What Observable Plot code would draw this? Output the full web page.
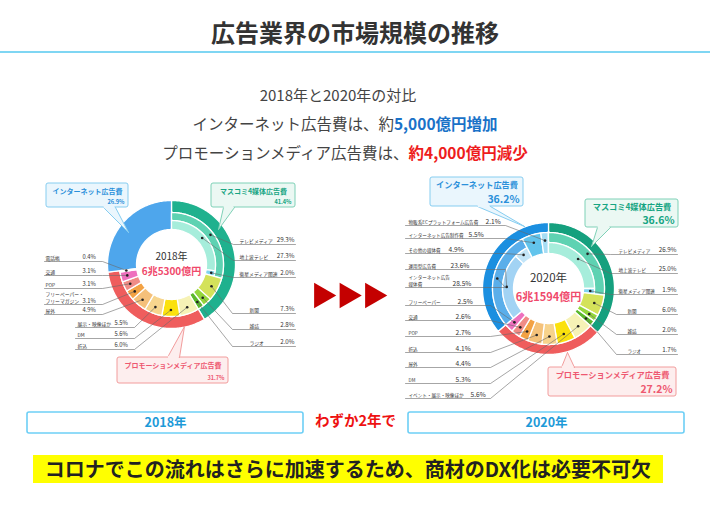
<!DOCTYPE html>
<html><head><meta charset="utf-8">
<script src="https://cdn.jsdelivr.net/npm/d3@7"></script>
<script src="https://cdn.jsdelivr.net/npm/@observablehq/plot@0.6"></script>
<style>
html,body{margin:0;padding:0;background:#fff;}
#page{position:relative;width:710px;height:507px;background:#fff;font-family:"Noto Sans CJK JP","Noto Sans",sans-serif;color:#444;overflow:hidden;}
.abs{position:absolute;white-space:nowrap;}
#chart{position:absolute;left:0;top:165px;}
</style></head>
<body>
<div id="page">
  <div class="abs" style="left:0;top:15px;width:710px;text-align:center;font-size:24px;line-height:34px;font-weight:bold;color:#333;">広告業界の市場規模の推移</div>
  <div class="abs" style="left:0;top:51px;width:710px;height:2px;background:#7fd6f3;"></div>
  <div class="abs" style="left:0;top:85px;width:676px;text-align:center;font-size:15px;line-height:20px;">2018年と2020年の対比</div>
  <div class="abs" style="left:0;top:113px;width:690px;text-align:center;font-size:15.5px;line-height:20px;">インターネット広告費は、約<b style="color:#1a72c8">5,000億円増加</b></div>
  <div class="abs" style="left:0;top:142px;width:690px;text-align:center;font-size:15.5px;line-height:20px;">プロモーションメディア広告費は、<b style="color:#ee1c1c">約4,000億円減少</b></div>
  <div id="chart"></div>
  <div class="abs" style="left:33px;top:455px;width:630px;height:28px;background:#ffff00;text-align:center;font-size:20px;line-height:28px;font-weight:bold;color:#222;">コロナでこの流れはさらに加速するため、商材のDX化は必要不可欠</div>
</div>
<script>
// ---------------- data ----------------
const years = ["2018", "2020"];
const yearLabels = ["2018年", "2020年"];
const totals = ["6兆5300億円", "6兆1594億円"];
const categories = ["マスコミ4媒体広告費", "プロモーションメディア広告費", "インターネット広告費"];
const catShare2018 = [41.4, 31.7, 26.9];
const catShare2020 = [36.6, 27.2, 36.2];
const massMedia = ["テレビメディア", "新聞", "雑誌", "ラジオ"];
const mass2018 = [29.3, 7.3, 2.8, 2.0];
const mass2020 = [26.9, 6.0, 2.0, 1.7];
const tvMedia = ["地上波テレビ", "衛星メディア関連"];
const tv2018 = [27.3, 2.0];
const tv2020 = [25.0, 1.9];
const promoNames2018 = ["折込", "DM", "展示・映像ほか", "屋外", "フリーペーパー・フリーマガジン", "POP", "交通", "電話帳"];
const promo2018 = [6.0, 5.6, 5.5, 4.9, 3.1, 3.1, 3.1, 0.4];
const promoNames2020 = ["イベント・展示・映像ほか", "DM", "屋外", "折込", "POP", "交通", "フリーペーパー"];
const promo2020 = [5.6, 5.3, 4.4, 4.1, 2.7, 2.6, 2.5];
const netNames2020 = ["インターネット広告媒体費", "インターネット広告制作費", "物販系ECプラットフォーム広告費"];
const net2020 = [28.5, 5.5, 2.1];
const netMediaNames2020 = ["運用型広告費", "その他の媒体費"];
const netMedia2020 = [23.6, 4.9];
const bridgeText = "わずか2年で";

// ---------------- styles / layout ----------------
const geom = {
  "2018": {cx: 171, cy: 264, r0: 35, r1: 44, r2: 52, R: 64},
  "2020": {cx: 548, cy: 288, r0: 35, r1: 46, r2: 56, R: 66}
};
const catColor = {
  "2018": ["#1fb18e", "#ef5d5d", "#4ea6ec"],
  "2020": ["#15a07e", "#ef5d5d", "#1b8fe0"]
};
const segColor = {
  "テレビメディア": "#5ed2b2", "地上波テレビ": "#a6eddb", "衛星メディア関連": "#7fd3ef",
  "新聞": "#d4e25a", "雑誌": "#93d63b", "ラジオ": "#5bb82d",
  "インターネット広告媒体費": "#5aaeea", "インターネット広告制作費": "#62c4ec", "物販系ECプラットフォーム広告費": "#a6ddf4",
  "運用型広告費": "#a2d3f4", "その他の媒体費": "#c3e5f8"
};
const promoPalette = {
  "2018": ["#f6f2b6", "#fbe10d", "#f7d58e", "#f5c07a", "#f3a244", "#f08c86", "#ee70be", "#f6a9c9"],
  "2020": ["#f6f2b6", "#fbe10d", "#f7d38c", "#f5c27a", "#f3a244", "#f08c86", "#ee70be"]
};
const catText = ["#17a583", "#ee5870", "#2b90da"];
const boxFill = ["#ebf8f3", "#fdeeee", "#eaf6fd"];
const boxStroke = ["#7fd1b7", "#f29c9c", "#86cdf0"];

const rowLayout = [
  ["2018", "電話帳", 257, "L1"], ["2018", "交通", 271, "L1"], ["2018", "POP", 284, "L1"],
  ["2018", "フリーペーパー・フリーマガジン", 297, "L1"], ["2018", "屋外", 310, "L1"],
  ["2018", "展示・映像ほか", 323, "L2"], ["2018", "DM", 334, "L2"], ["2018", "折込", 345, "L2"],
  ["2018", "テレビメディア", 240, "R1"], ["2018", "地上波テレビ", 256, "R1"], ["2018", "衛星メディア関連", 273, "R1"],
  ["2018", "新聞", 309, "R2"], ["2018", "雑誌", 325, "R2"], ["2018", "ラジオ", 342, "R2"],
  ["2020", "物販系ECプラットフォーム広告費", 221, "L1", 485], ["2020", "インターネット広告制作費", 234, "L1", 468],
  ["2020", "その他の媒体費", 249, "L1", 448], ["2020", "運用型広告費", 265, "L1", 450],
  ["2020", "インターネット広告媒体費", 280, "L1", 452],
  ["2020", "フリーペーパー", 301, "L2", 457], ["2020", "交通", 316, "L2", 455], ["2020", "POP", 332, "L2", 455],
  ["2020", "折込", 348, "L2", 455], ["2020", "屋外", 363, "L2", 455], ["2020", "DM", 379, "L2", 455],
  ["2020", "イベント・展示・映像ほか", 394, "L2", 470],
  ["2020", "テレビメディア", 250, "R1"], ["2020", "地上波テレビ", 269, "R1"], ["2020", "衛星メディア関連", 290, "R1"],
  ["2020", "新聞", 310, "R2"], ["2020", "雑誌", 330, "R2"], ["2020", "ラジオ", 350, "R2"]
];
const groupLayout = {
  "2018L1": {xs: 44, xe: 102, nameX: 45, valX: 82, side: "L"},
  "2018L2": {xs: 75, xe: 134, nameX: 77, valX: 114, side: "L"},
  "2018R1": {xs: 233, xe: 295, nameX: 239, valX: 294, side: "R"},
  "2018R2": {xs: 232, xe: 295, nameX: 249, valX: 294, side: "R"},
  "2020L1": {xs: 405, xe: 505, nameX: 408, side: "L"},
  "2020L2": {xs: 405, xe: 490, nameX: 408, side: "L"},
  "2020R1": {xs: 610, xe: 677, nameX: 618, valX: 676, side: "R"},
  "2020R2": {xs: 616, xe: 677, nameX: 627, valX: 676, side: "R"}
};
const displayName = {
  "フリーペーパー・フリーマガジン": "フリーペーパー・\nフリーマガジン",
  "インターネット広告媒体費": "インターネット広告\n媒体費"
};
const callouts = [
  {year: "2018", cat: 0, x1: 211, x2: 295, y1: 183, y2: 207, tail: [[223, 207], [234, 207], [218, 229]]},
  {year: "2018", cat: 1, x1: 117, x2: 228, y1: 357, y2: 383, tail: [[167, 357], [179, 357], [184, 326]]},
  {year: "2018", cat: 2, x1: 46, x2: 128, y1: 183, y2: 207, tail: [[103, 207], [115, 207], [128, 232]]},
  {year: "2020", cat: 0, x1: 585, x2: 678, y1: 199, y2: 227, tail: [[597, 227], [610, 227], [591, 246]]},
  {year: "2020", cat: 1, x1: 548, x2: 676, y1: 367, y2: 396, tail: [[561, 367], [574, 367], [567, 352]]},
  {year: "2020", cat: 2, x1: 430, x2: 523, y1: 177, y2: 206, tail: [[477, 206], [490, 206], [524, 226]]}
];

// ---------------- build segments ----------------
const segs = [];
function addSeg(year, name, start, value, rIn, rOut, color, labelled) {
  segs.push({year, name, start, end: start + value, value, rIn, rOut, color, labelled});
}
function buildYear(year, cat, mass, tv, promoNames, promo, netNames, net, netMediaNames, netMedia) {
  const g = geom[year];
  const starts = d3.cumsum([0, ...cat]);
  categories.forEach((n, i) => {
    const full = !netNames && i === 2;
    addSeg(year, n, starts[i], cat[i], full ? g.r0 : g.r2, g.R, catColor[year][i], false);
  });
  let s = starts[0];
  massMedia.forEach((n, i) => {
    if (i === 0) {
      addSeg(year, n, s, mass[i], g.r1, g.r2, segColor[n], true);
      let t = s;
      tvMedia.forEach((m, j) => { addSeg(year, m, t, tv[j], g.r0, g.r1, segColor[m], true); t += tv[j]; });
    } else addSeg(year, n, s, mass[i], g.r0, g.r2, segColor[n], true);
    s += mass[i];
  });
  s = starts[1];
  promoNames.forEach((n, i) => { addSeg(year, n, s, promo[i], g.r0, g.r2, promoPalette[year][i], true); s += promo[i]; });
  if (netNames) {
    s = starts[2];
    netNames.forEach((n, i) => {
      if (i === 0) {
        addSeg(year, n, s, net[i], g.r1, g.r2, segColor[n], true);
        let t = s;
        netMediaNames.forEach((m, j) => { addSeg(year, m, t, netMedia[j], g.r0, g.r1, segColor[m], true); t += netMedia[j]; });
      } else addSeg(year, n, s, net[i], g.r0, g.r2, segColor[n], true);
      s += net[i];
    });
  }
}
buildYear("2018", catShare2018, mass2018, tv2018, promoNames2018, promo2018, null, null, null, null);
buildYear("2020", catShare2020, mass2020, tv2020, promoNames2020, promo2020, netNames2020, net2020, netMediaNames2020, netMedia2020);

const polar = (g, pct, r) => {
  const a = pct / 100 * 2 * Math.PI;
  return [g.cx + r * Math.sin(a), g.cy - r * Math.cos(a)];
};
const arcPts = [];
segs.forEach((d, k) => {
  const g = geom[d.year];
  const n = Math.max(2, Math.ceil((d.end - d.start) * 3.6));
  const outer = d3.range(n + 1).map(i => polar(g, d.start + (d.end - d.start) * i / n, d.rOut));
  const inner = d3.range(n + 1).map(i => polar(g, d.end - (d.end - d.start) * i / n, d.rIn));
  [...outer, ...inner].forEach(([x, y]) => arcPts.push({id: k, x, y, color: d.color}));
});

// ---------------- labels ----------------
const labelRows = rowLayout.map(([year, name, y, grp, vx]) => {
  const seg = segs.find(s => s.year === year && s.name === name && s.labelled);
  const L = groupLayout[year + grp];
  const g = geom[year];
  const [dx, dy] = polar(g, (seg.start + seg.end) / 2, seg.rIn + 0.62 * (seg.rOut - seg.rIn));
  const two = !!displayName[name];
  const uy = y + (two ? 7 : 4);
  return {year, name, label: displayName[name] || name, value: seg.value.toFixed(1) + "%", y, uy,
    valY: two ? y + 3.5 : y, nameX: L.nameX, valX: vx || L.valX, side: L.side, xs: L.xs, xe: L.xe, dx, dy};
});
const leaderPts = [];
labelRows.forEach((r, k) => {
  const pts = r.side === "L" ? [[r.dx, r.dy], [r.xe, r.uy], [r.xs, r.uy]] : [[r.dx, r.dy], [r.xs, r.uy], [r.xe, r.uy]];
  pts.forEach(([x, y]) => leaderPts.push({id: k, x, y}));
});

const tailPts = [];
callouts.forEach((c, k) => c.tail.forEach(([x, y]) => tailPts.push({id: k, x, y, fill: boxFill[c.cat], stroke: boxStroke[c.cat]})));
const tailEdges = [];
callouts.forEach((c, k) => {
  [[c.tail[0], c.tail[2]], [c.tail[1], c.tail[2]]].forEach((e, j) => e.forEach(([x, y]) => tailEdges.push({id: k * 2 + j, x, y, stroke: boxStroke[c.cat]})));
});
const tailCover = callouts.map(c => ({x1: c.tail[0][0] + 0.6, x2: c.tail[1][0] - 0.6, y1: c.tail[0][1] - 1.2, y2: c.tail[0][1] + 1.2, fill: boxFill[c.cat]}));

const font = "'Noto Sans CJK JP', sans-serif";
const Y0 = 165, H = 275;
const left = labelRows.filter(r => r.side === "L"), right = labelRows.filter(r => r.side === "R");
const is2018 = r => r.year === "2018";

const chart = Plot.plot({
  width: 710, height: H, margin: 0,
  x: {domain: [0, 710], range: [0, 710], axis: null},
  y: {domain: [Y0, Y0 + H], range: [0, H], axis: null},
  color: {type: "identity"},
  style: {fontFamily: font, background: "transparent", overflow: "visible"},
  marks: [
    // donut slices
    Plot.line(arcPts, {x: "x", y: "y", z: "id", fill: "color", stroke: "#ffffff", strokeWidth: 1.3, curve: "linear-closed"}),
    // leader lines
    Plot.line(leaderPts, {x: "x", y: "y", z: "id", stroke: "#6a6a6a", strokeWidth: 0.6, fill: "none"}),
    Plot.dot(labelRows, {x: "dx", y: "dy", r: 1.3, fill: "#222", stroke: null}),
    // labels
    Plot.text(labelRows.filter(is2018), {x: "nameX", y: "y", text: "label", textAnchor: "start", fontSize: 4.8, fill: "#333", fontFamily: font, lineHeight: 1.3}),
    Plot.text(labelRows.filter(r => !is2018(r)), {x: "nameX", y: "y", text: "label", textAnchor: "start", fontSize: 4.6, fill: "#333", fontFamily: font, lineHeight: 1.4}),
    Plot.text(left.filter(is2018), {x: "valX", y: "valY", text: "value", textAnchor: "start", fontSize: 5.8, fill: "#333", fontFamily: font}),
    Plot.text(left.filter(r => !is2018(r)), {x: "valX", y: "valY", text: "value", textAnchor: "start", fontSize: 6.6, fill: "#333", fontFamily: font}),
    Plot.text(right, {x: "valX", y: "valY", text: "value", textAnchor: "end", fontSize: 6.2, fill: "#333", fontFamily: font}),
    // centre texts
    Plot.text(years, {x: (d, i) => geom[d].cx, y: (d, i) => geom[d].cy + (i ? -10 : -8), text: (d, i) => yearLabels[i], fontSize: (d, i) => i ? 11.5 : 10, fill: "#333", fontFamily: font}),
    Plot.text(years, {x: (d, i) => geom[d].cx, y: (d, i) => geom[d].cy + (i ? 9 : 7), text: (d, i) => totals[i], fontSize: (d, i) => i ? 11 : 10, fill: "#f04a6c", fontWeight: "bold", fontFamily: font}),
    // callouts
    Plot.rect(callouts, {x1: "x1", x2: "x2", y1: "y1", y2: "y2", fill: d => boxFill[d.cat], stroke: d => boxStroke[d.cat], strokeWidth: 1, rx: 2}),
    Plot.line(tailPts, {x: "x", y: "y", z: "id", fill: "fill", stroke: null, curve: "linear-closed"}),
    Plot.line(tailEdges, {x: "x", y: "y", z: "id", stroke: "stroke", strokeWidth: 1}),
    Plot.rect(tailCover, {x1: "x1", x2: "x2", y1: "y1", y2: "y2", fill: "fill"}),
    Plot.text(callouts, {x: d => (d.x1 + d.x2) / 2, y: d => d.y1 + (d.year === "2018" ? 8.5 : 7.5), text: d => categories[d.cat],
      fill: d => catText[d.cat], fontWeight: "bold", fontSize: d => d.year === "2018" ? 7 : 8.2, fontFamily: font}),
    Plot.text(callouts, {x: d => d.x2 - 4, y: d => d.y2 - (d.year === "2018" ? 5.5 : 7), textAnchor: "end",
      text: d => (d.year === "2018" ? catShare2018 : catShare2020)[d.cat].toFixed(1) + "%",
      fill: d => catText[d.cat], fontWeight: "bold", fontSize: d => d.year === "2018" ? 5.6 : 10.5, fontFamily: font}),
    // arrows
    Plot.dot([0, 1, 2], {x: i => 321 + i * 25.5, y: 295, symbol: "triangle", rotate: 90, r: 9.5, fill: "#c40000", stroke: null}),
    // bottom year boxes
    Plot.rect(years, {x1: (d, i) => i ? 408 : 27, x2: (d, i) => i ? 684 : 303, y1: 412, y2: 433, fill: "#fff", stroke: "#6dcff6", strokeWidth: 1.6, rx: 2}),
    Plot.text(years, {x: (d, i) => i ? 546 : 165, y: 422.5, text: (d, i) => yearLabels[i], fill: "#1d9ad8", fontWeight: "bold", fontSize: 12.5, fontFamily: font}),
    Plot.text([bridgeText], {x: 355, y: 421, text: d => d, fill: "#ee1111", fontWeight: "bold", fontSize: 14.5, fontFamily: font})
  ]
});
document.getElementById("chart").appendChild(chart);
</script>
</body></html>
